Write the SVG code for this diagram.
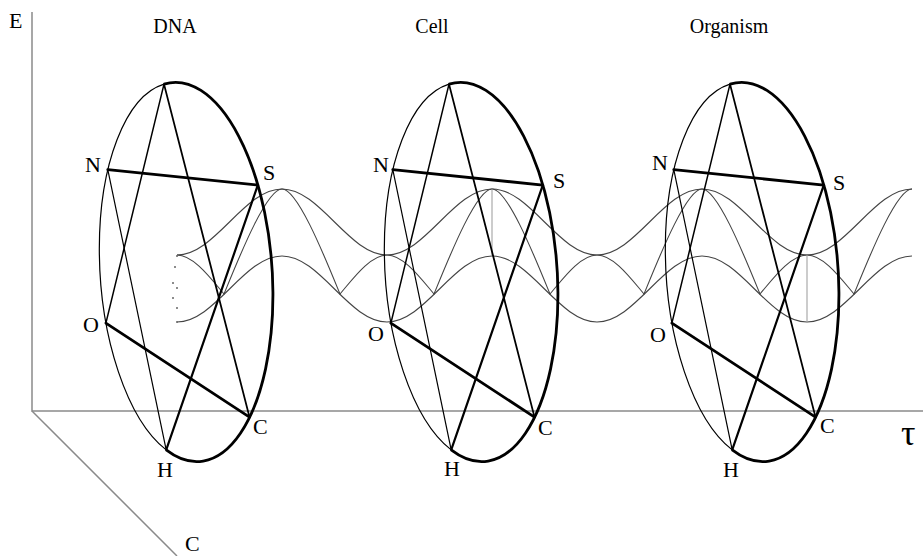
<svg xmlns="http://www.w3.org/2000/svg" width="923" height="556" viewBox="0 0 923 556">
<style>
.axis{stroke:#8a8a8a;stroke-width:1.5;fill:none}
.wave{stroke:#444;stroke-width:1.1;fill:none}
.vline{stroke:#999;stroke-width:1;fill:none}
.ring-thin{stroke:#000;stroke-width:1.2;fill:none}
.ring-thick{stroke:#000;stroke-width:2.8;fill:none}
.bond{stroke:#000;fill:none;stroke-linecap:round}
.w1{stroke-width:1.2}.w15{stroke-width:1.5}.w18{stroke-width:1.8}.w22{stroke-width:2.2}.w28{stroke-width:2.8}
text{font-family:"Liberation Serif","Times New Roman",serif;fill:#000}
.lbl{font-size:22px}
.ttl{font-size:20px;text-anchor:middle}
.dot{fill:#666}
</style>
<g id="axes">
<path class="axis" d="M32,12 V411 H923"/>
<path class="axis" d="M32,411 L177,556"/>
<text class="lbl" x="9" y="28">E</text>
<text class="lbl" x="185" y="551">C</text>
<text x="901" y="445" style="font-size:36px">τ</text>
</g>
<g id="connectors">
<path class="wave" d="M177,255 C215.2,255 243.8,189 282,189 C320.2,189 348.8,255 387,255 C425.2,255 453.8,189 492,189 C530.2,189 558.8,255 597,255 C635.2,255 663.8,189 702,189 C740.2,189 768.8,255 807,255 C845.2,255 873.8,189 912,189"/>
<path class="wave" d="M177,322 C215.2,322 243.8,256 282,256 C320.2,256 348.8,322 387,322 C425.2,322 453.8,256 492,256 C530.2,256 558.8,322 597,322 C635.2,322 663.8,256 702,256 C740.2,256 768.8,322 807,322 C845.2,322 873.8,256 912,256"/>
<path class="wave" d="M177,255 C194,255 212,280 224,294 C238,260 266,189 282,189 C298,189 326,260 340,294 C352,280 370,255 387,255 C404,255 422,280 434,294 C448,260 476,189 492,189 C508,189 536,260 550,294 C562,280 580,255 597,255 C614,255 632,280 644,294 C658,260 686,189 702,189 C718,189 746,260 760,294 C772,280 790,255 807,255 C824,255 842,280 854,294 C868,260 896,189 912,189"/>
<path class="vline" d="M492,189 V256 M807,255 V322"/>
<circle class="dot" cx="177" cy="256" r="1"/>
<circle class="dot" cx="175" cy="267" r="1"/>
<circle class="dot" cx="173" cy="283" r="1"/>
<circle class="dot" cx="177" cy="288" r="1"/>
<circle class="dot" cx="173" cy="298" r="1"/>
<circle class="dot" cx="177" cy="308" r="1"/>
<circle class="dot" cx="177" cy="322" r="1"/>
</g>
<g id="node-dna">
<g>
<path class="ring-thin" d="M166.2,449.9 A86,190 -4 0 1 164,84.1"/>
<path class="ring-thick" d="M164,84.1 A86,190 -4 1 1 166.2,449.9"/>
<path class="bond w28" d="M107.8,169.7 L257.8,185.1"/>
<path class="bond w28" d="M105.9,323.1 L249.5,417.1"/>
<path class="bond w22" d="M257.8,185.1 L166.2,449.9"/>
<path class="bond w15" d="M164,84.1 L105.9,323.1"/>
<path class="bond w18" d="M164,84.1 L249.5,417.1"/>
<path class="bond w1" d="M107.8,169.7 L166.2,449.9"/>
</g>
<text class="ttl" x="175" y="33">DNA</text>
<text class="lbl" x="85" y="172">N</text>
<text class="lbl" x="263" y="180">S</text>
<text class="lbl" x="83" y="332">O</text>
<text class="lbl" x="253" y="434">C</text>
<text class="lbl" x="157" y="477">H</text>
</g>
<g id="node-cell">
<g transform="translate(285,0)">
<path class="ring-thin" d="M166.2,449.9 A86,190 -4 0 1 164,84.1"/>
<path class="ring-thick" d="M164,84.1 A86,190 -4 1 1 166.2,449.9"/>
<path class="bond w28" d="M107.8,169.7 L257.8,185.1"/>
<path class="bond w28" d="M105.9,323.1 L249.5,417.1"/>
<path class="bond w22" d="M257.8,185.1 L166.2,449.9"/>
<path class="bond w15" d="M164,84.1 L105.9,323.1"/>
<path class="bond w18" d="M164,84.1 L249.5,417.1"/>
<path class="bond w1" d="M107.8,169.7 L166.2,449.9"/>
</g>
<text class="ttl" x="432" y="33">Cell</text>
<text class="lbl" x="373" y="172">N</text>
<text class="lbl" x="553" y="188">S</text>
<text class="lbl" x="368" y="341">O</text>
<text class="lbl" x="538" y="435">C</text>
<text class="lbl" x="444" y="476">H</text>
</g>
<g id="node-organism">
<g transform="translate(566,0)">
<path class="ring-thin" d="M166.2,449.9 A86,190 -4 0 1 164,84.1"/>
<path class="ring-thick" d="M164,84.1 A86,190 -4 1 1 166.2,449.9"/>
<path class="bond w28" d="M107.8,169.7 L257.8,185.1"/>
<path class="bond w28" d="M105.9,323.1 L249.5,417.1"/>
<path class="bond w22" d="M257.8,185.1 L166.2,449.9"/>
<path class="bond w15" d="M164,84.1 L105.9,323.1"/>
<path class="bond w18" d="M164,84.1 L249.5,417.1"/>
<path class="bond w1" d="M107.8,169.7 L166.2,449.9"/>
</g>
<text class="ttl" x="729" y="33">Organism</text>
<text class="lbl" x="652" y="170">N</text>
<text class="lbl" x="833" y="190">S</text>
<text class="lbl" x="650" y="342">O</text>
<text class="lbl" x="820" y="433">C</text>
<text class="lbl" x="723" y="477">H</text>
</g>
</svg>
